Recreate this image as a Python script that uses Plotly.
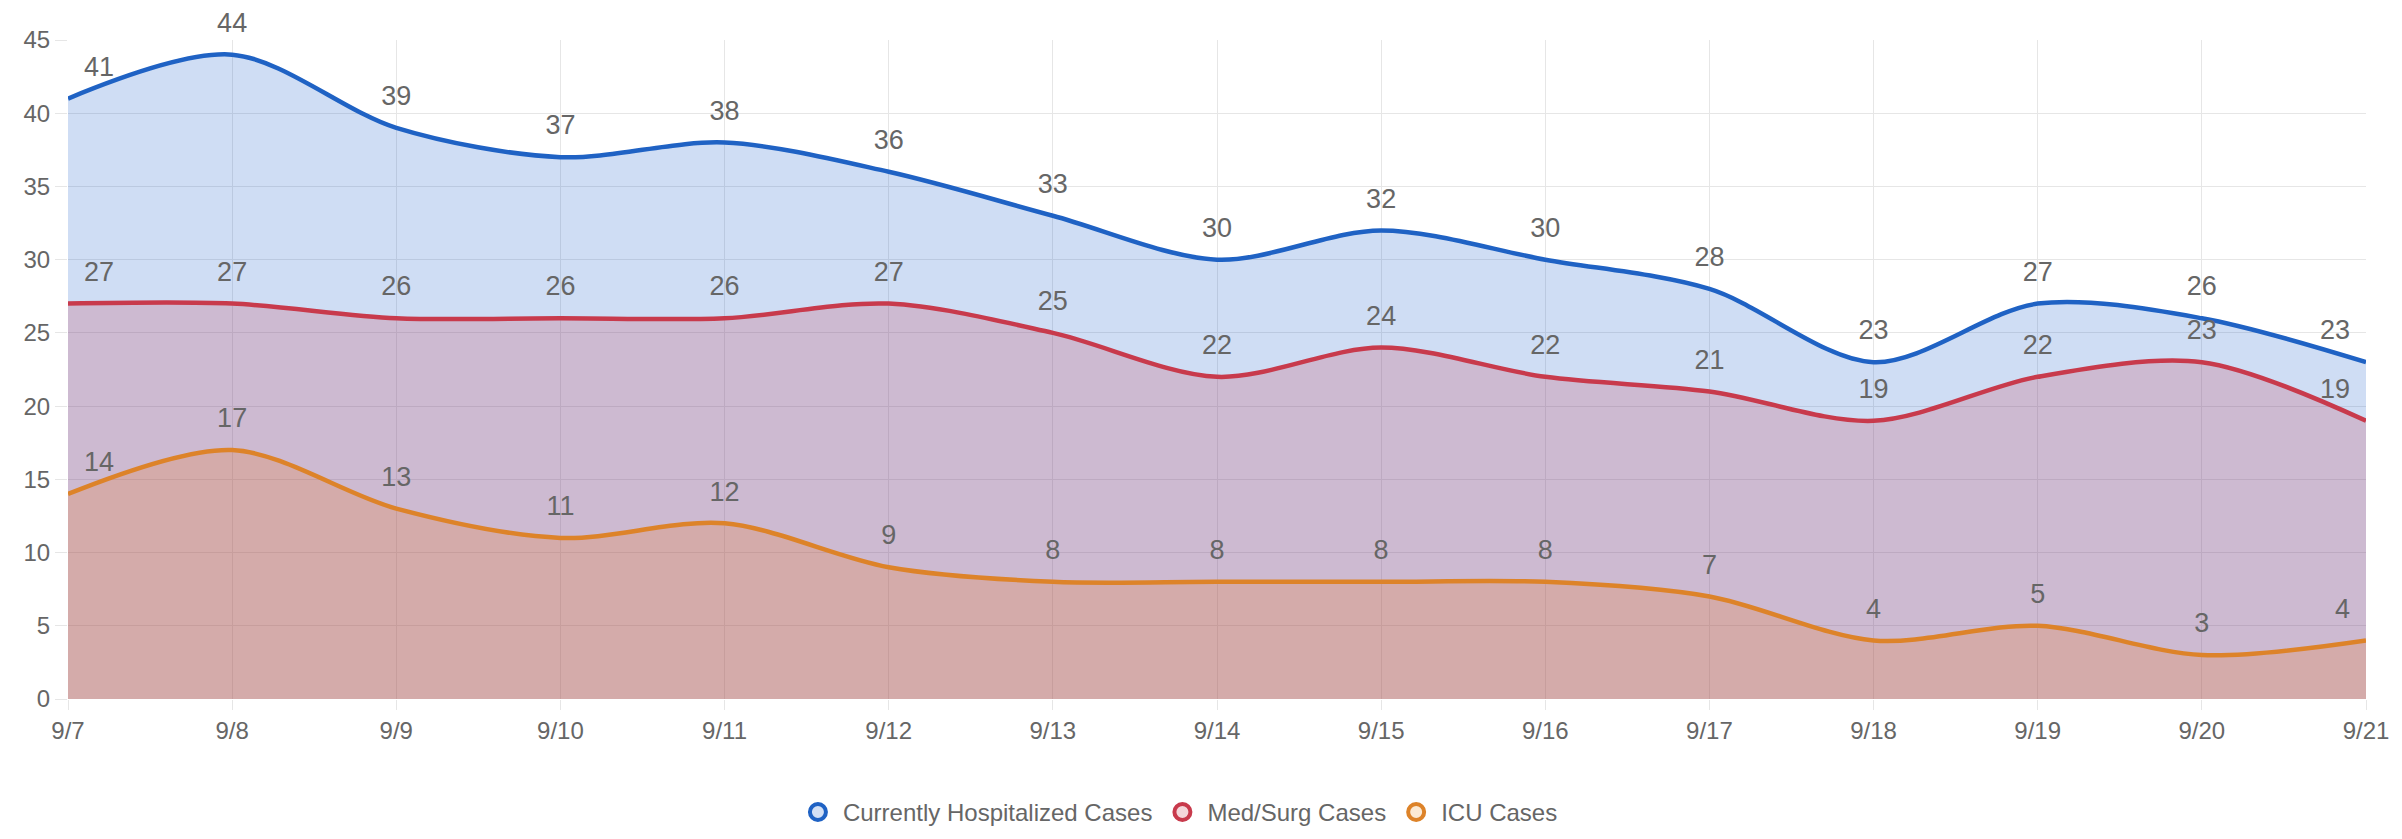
import plotly.graph_objects as go

dates = ["9/7", "9/8", "9/9", "9/10", "9/11", "9/12", "9/13", "9/14", "9/15",
         "9/16", "9/17", "9/18", "9/19", "9/20", "9/21"]
hospitalized = [41, 44, 39, 37, 38, 36, 33, 30, 32, 30, 28, 23, 27, 26, 23]
med_surg = [27, 27, 26, 26, 26, 27, 25, 22, 24, 22, 21, 19, 22, 23, 19]
icu = [14, 17, 13, 11, 12, 9, 8, 8, 8, 8, 7, 4, 5, 3, 4]
y_ticks = [0, 5, 10, 15, 20, 25, 30, 35, 40, 45]

series = [
    ("Currently Hospitalized Cases", hospitalized, "#1f62c4", "rgba(35,100,205,0.22)", "rgba(35,100,205,0.2)"),
    ("Med/Surg Cases", med_surg, "#c83a4c", "rgba(200,50,70,0.2)", "rgba(200,50,70,0.2)"),
    ("ICU Cases", icu, "#dd8329", "rgba(235,120,30,0.22)", "rgba(240,150,40,0.2)"),
]

FONT = "Liberation Sans, Arial, sans-serif"
n = len(dates)
positions = ["top right"] + ["top center"] * (n - 2) + ["top left"]

fig = go.Figure()
for name, vals, line_c, fill_c, leg_fill in series:
    fig.add_trace(go.Scatter(
        x=dates, y=vals, mode="lines+markers+text", name=name,
        line=dict(color=line_c, width=4.5, shape="spline", smoothing=0.9),
        marker=dict(size=24, color="rgba(0,0,0,0)"),
        fill="tozeroy", fillcolor=fill_c,
        text=[str(v) for v in vals], textposition=positions,
        textfont=dict(size=27, color="#666666", family=FONT),
        cliponaxis=False,
        showlegend=False, hoverinfo="x+y",
    ))
for name, vals, line_c, fill_c, leg_fill in series:
    fig.add_trace(go.Scatter(
        x=[None], y=[None], mode="markers", name=name,
        marker=dict(symbol="circle", size=30, color=leg_fill, line=dict(color=line_c, width=4)),
        showlegend=True,
    ))

fig.update_layout(
    width=2402, height=839,
    margin=dict(l=60, r=44, t=32, b=136),
    plot_bgcolor="white", paper_bgcolor="white",
    font=dict(family=FONT, color="#666666", size=24),
    legend=dict(orientation="h", x=0.483, xanchor="center", y=-0.172, yanchor="middle",
                font=dict(size=24, color="#666666"), itemsizing="trace", itemwidth=40),
)
fig.update_xaxes(
    range=[0, n - 1], showgrid=True, gridcolor="#e6e6e6", gridwidth=1,
    ticks="outside", ticklen=10, tickcolor="#e6e6e6",
    showline=False, zeroline=False, tickfont=dict(size=24, color="#666666"),
)
fig.update_yaxes(
    range=[0, 45], tickvals=y_ticks, showgrid=True, gridcolor="#e6e6e6", gridwidth=1,
    ticks="outside", ticklen=12, tickcolor="#e6e6e6",
    showline=False, zeroline=False, tickfont=dict(size=24, color="#666666"),
)

fig.write_html("out.html")
